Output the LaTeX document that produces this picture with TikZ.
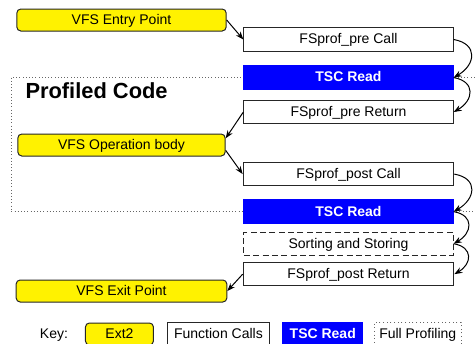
\documentclass[tikz,border=0pt]{standalone}
\usepackage{fontspec}
\setmainfont{Liberation Sans}
\usetikzlibrary{positioning,arrows.meta,backgrounds}

\begin{document}
\begin{tikzpicture}[x=0.75pt,y=-0.75pt,
  font=\fontsize{10.5}{12}\selectfont,
  text height=1.5ex,text depth=.25ex,
  line width=0.75pt,
  flow/.style={-{Stealth[length=6pt,width=4.5pt]},black},
  extbox/.style={
    rectangle,
    rounded corners=3pt,
    draw=black!85,
    fill=yellow,
    minimum width=157pt,
    minimum height=16.5pt,
    inner sep=1pt,
  },
  callbox/.style={
    rectangle,
    draw=black!85,
    fill=white,
    minimum width=157pt,
    minimum height=17.5pt,
    inner sep=1pt,
  },
  tscbox/.style={
    callbox,
    draw=blue,
    fill=blue,
    text=white,
    font=\fontsize{10.5}{12}\selectfont\bfseries,
  },
  sortbox/.style={
    callbox,
    dash pattern=on 4.5pt off 2.5pt,
  },
  fullprof/.style={
    draw=black!60,
    dotted,
  }]
\useasboundingbox (0,0) rectangle (475,343);

% left column
\node[extbox] (entry) at (121.5,20) {VFS Entry Point};
\node[extbox,minimum width=155.5pt] (opbody) [below=76.5pt of entry] {VFS Operation body};
\node[extbox,minimum width=158pt] (exit) [below=92.25pt of opbody] {VFS Exit Point};

% right column
\node[callbox] (precall) at (348.5,39.5) {FSprof\_pre Call};
\node[tscbox] (tsc1) [below=10.3pt of precall] {TSC Read};
\node[callbox] (preret) [below=7.6pt of tsc1] {FSprof\_pre Return};
\node[callbox,minimum width=158pt] (postcall) [below=28.3pt of preret] {FSprof\_post Call};
\node[tscbox] (tsc2) [below=9.9pt of postcall] {TSC Read};
\node[sortbox] (sort) [below=5.8pt of tsc2] {Sorting and Storing};
\node[callbox,minimum width=158pt] (postret) [below=4.6pt of sort] {FSprof\_post Return};

% profiled region
\begin{scope}[on background layer]
\draw[fullprof] ([xshift=-4pt]entry.west |- tsc1.center) rectangle ([xshift=40pt]tsc2.east);
\end{scope}
\node[anchor=west,inner sep=0pt,font=\fontsize{16.4}{18}\selectfont\bfseries] (profiled) at (25,94) {Profiled Code};

\path (entry.east) edge[flow] (precall.west)
  (precall.east) edge[flow,out=-10,in=30,looseness=1.7] (tsc1.east)
  (tsc1.east) edge[flow,out=-10,in=30,looseness=1.7] (preret.east)
  (preret.west) edge[flow] ([yshift=5pt]opbody.east)
  ([yshift=-4pt]opbody.east) edge[flow] (postcall.west)
  (postcall.east) edge[flow,out=-10,in=30,looseness=1.7] (tsc2.east)
  (tsc2.east) edge[flow,out=-10,in=30,looseness=1.7] (sort.east)
  (sort.east) edge[flow,out=-10,in=30,looseness=1.7] (postret.east)
  (postret.west) edge[flow] (exit.east);

% key
\node (key) at (54,334) {Key:};
\node[extbox,minimum width=51pt] (keyext) [right=9pt of key] {Ext2};
\node[callbox,minimum width=77pt] (keycall) [right=9.5pt of keyext] {Function Calls};
\node[tscbox,minimum width=60pt] (keytsc) [right=9pt of keycall] {TSC Read};
\node[fullprof,minimum width=65pt,minimum height=17.5pt,inner sep=1pt] (keyfull) [right=8pt of keytsc] {Full Profiling};
\end{tikzpicture}
\end{document}
